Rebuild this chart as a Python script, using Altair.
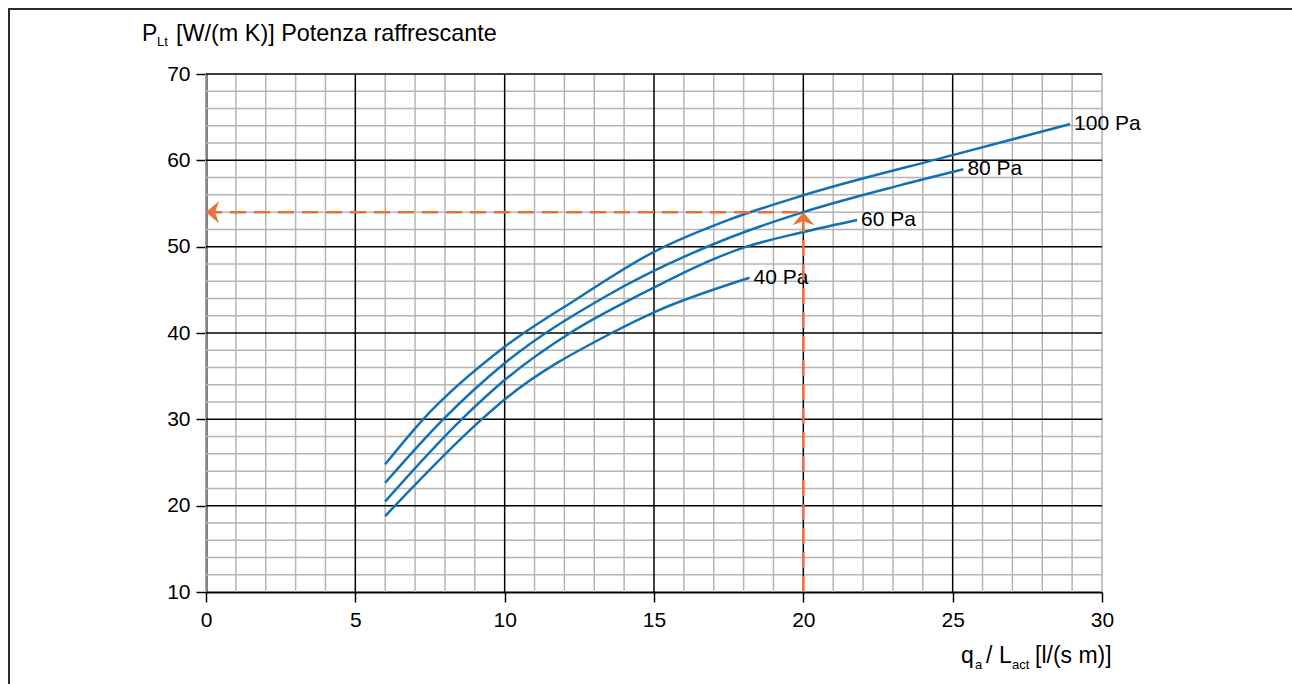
import altair as alt
import pandas as pd

# ---- data ----
x_100 = [6, 7.27, 10, 12.35, 15, 17.5, 20, 25, 28.93]
y_100 = [24.8, 30, 38.4, 43.8, 49.4, 53.1, 55.95, 60.6, 64.2]
x_80 = [6, 7.94, 10, 13.36, 17.5, 20, 23.23, 25.36]
y_80 = [22.65, 30, 36.5, 44.2, 51.0, 54.0, 57.1, 58.96]
x_60 = [6, 8.56, 10, 12.19, 14.45, 18.1, 20, 21.8]
y_60 = [20.5, 30, 34.55, 40, 44.3, 50, 51.7, 53.1]
x_40 = [6, 9.23, 10, 13.58, 15, 18.2]
y_40 = [18.8, 30, 32.3, 40, 42.4, 46.4]
series = ["100 Pa", "80 Pa", "60 Pa", "40 Pa"]

x_major = [0, 5, 10, 15, 20, 25, 30]
x_black = [5, 10, 15, 20, 25]
x_gray = [v for v in range(0, 31) if v not in x_black]
y_major = [10, 20, 30, 40, 50, 60, 70]
y_minor = [v for v in range(10, 71, 2) if v % 10 != 0]

read_x = 20
read_y = 54

W, H = 896, 518
FONT = "Liberation Sans"
BLUE = "#1271b3"
ORANGE = "#e8733a"

rows = []
for name, xs, ys in zip(series, [x_100, x_80, x_60, x_40], [y_100, y_80, y_60, y_40]):
    for i, (a, b) in enumerate(zip(xs, ys)):
        rows.append({"s": name, "x": a, "y": b, "o": i})
curves = pd.DataFrame(rows)
ends = pd.DataFrame([{"s": n, "x": xs[-1], "y": ys[-1]} for n, xs, ys in
                     zip(series, [x_100, x_80, x_60, x_40], [y_100, y_80, y_60, y_40])])

xs_ = alt.Scale(domain=[0, 30], nice=False, zero=False)
ys_ = alt.Scale(domain=[10, 70], nice=False, zero=False)
x_axis = alt.Axis(values=x_major, grid=False, title=None, labelFontSize=21, labelFont=FONT,
                  labelColor="black", tickColor="black", tickSize=10, tickWidth=1.5,
                  domainColor="black", domainWidth=2, labelPadding=7, labelFlush=False)
y_axis = alt.Axis(values=y_major, grid=False, title=None, labelFontSize=21, labelFont=FONT,
                  labelColor="black", tickColor="black", tickSize=10, tickWidth=1.5,
                  domainColor="black", domainWidth=2, labelPadding=6, labelFlush=False)

vminor = alt.Chart(pd.DataFrame({"v": x_gray})).mark_rule(color="#b5b5b5", strokeWidth=1.5).encode(
    x=alt.X("v:Q", scale=xs_, axis=x_axis))
hminor = alt.Chart(pd.DataFrame({"v": y_minor})).mark_rule(color="#b5b5b5", strokeWidth=1.5).encode(
    y=alt.Y("v:Q", scale=ys_, axis=y_axis))
vmajor = alt.Chart(pd.DataFrame({"v": x_black})).mark_rule(color="black", strokeWidth=1.5).encode(
    x=alt.X("v:Q", scale=xs_, axis=x_axis))
hmajor = alt.Chart(pd.DataFrame({"v": y_major[1:]})).mark_rule(color="black", strokeWidth=1.5).encode(
    y=alt.Y("v:Q", scale=ys_, axis=y_axis))

lines = alt.Chart(curves).mark_line(color=BLUE, strokeWidth=2.5, interpolate="monotone").encode(
    x=alt.X("x:Q", scale=xs_, axis=x_axis),
    y=alt.Y("y:Q", scale=ys_, axis=y_axis),
    detail="s:N", order="o:Q")

labels = alt.Chart(ends).mark_text(align="left", baseline="middle", dx=4, fontSize=21,
                                   font=FONT, color="black").encode(
    x=alt.X("x:Q", scale=xs_, axis=x_axis), y=alt.Y("y:Q", scale=ys_, axis=y_axis), text="s:N")

hdash = alt.Chart(pd.DataFrame({"x": [0], "x2": [read_x], "y": [read_y]})).mark_rule(
    color=ORANGE, strokeWidth=2.5, strokeDash=[16, 8]).encode(
    x=alt.X("x:Q", scale=xs_, axis=x_axis), x2="x2:Q", y=alt.Y("y:Q", scale=ys_, axis=y_axis))
vdash = alt.Chart(pd.DataFrame({"x": [read_x], "y": [10], "y2": [read_y]})).mark_rule(
    color=ORANGE, strokeWidth=2.5, strokeDash=[16, 8]).encode(
    x=alt.X("x:Q", scale=xs_, axis=x_axis), y=alt.Y("y:Q", scale=ys_, axis=y_axis), y2="y2:Q")

left_head = alt.Chart(pd.DataFrame({"x": [0], "y": [read_y]})).mark_point(
    shape="M0,0 L1,-0.85 L0.7,0 L1,0.85 Z", size=676, filled=True, opacity=1,
    color=ORANGE, strokeWidth=0).encode(
    x=alt.X("x:Q", scale=xs_, axis=x_axis), y=alt.Y("y:Q", scale=ys_, axis=y_axis))
up_head = alt.Chart(pd.DataFrame({"x": [read_x], "y": [read_y]})).mark_point(
    shape="M0,0 L-0.85,1 L0,0.7 L0.85,1 Z", size=676, filled=True, opacity=1,
    color=ORANGE, strokeWidth=0).encode(
    x=alt.X("x:Q", scale=xs_, axis=x_axis), y=alt.Y("y:Q", scale=ys_, axis=y_axis))

one = pd.DataFrame({"a": [0]})
OX, OY = 206, 74


def txt(t, px, py, size=23, align="left"):
    return alt.Chart(one).mark_text(text=t, align=align, baseline="middle", fontSize=size,
                                    font=FONT, color="black").encode(
        x=alt.value(px - OX), y=alt.value(py - OY))


titles = [
    txt("P", 142, 34),
    txt("Lt", 157, 42, 13),
    txt("[W/(m K)] Potenza raffrescante", 176, 34, 23.4),
    txt("q", 961, 656),
    txt("a", 975, 665, 13),
    txt("/", 986, 656),
    txt("L", 999, 656),
    txt("act", 1012, 665, 13),
    txt("[l/(s m)]", 1035, 656),
]

frame = alt.Chart(one).mark_rect(filled=False, stroke="#2a2a2a", strokeWidth=2).encode(
    x=alt.value(9 - OX), x2=alt.value(1400 - OX), y=alt.value(9 - OY), y2=alt.value(800 - OY))

chart = alt.layer(vminor, hminor, vmajor, hmajor, lines, labels, hdash, vdash, left_head, up_head,
                  *titles, frame).properties(
    width=W, height=H,
    autosize=alt.AutoSizeParams(type="none"),
    padding={"left": OX, "top": OY, "right": 1292 - OX - W, "bottom": 684 - OY - H},
).configure_view(strokeOpacity=0).configure(background="white")

chart.save("out.html", embed_options={"renderer": "svg", "actions": False})
